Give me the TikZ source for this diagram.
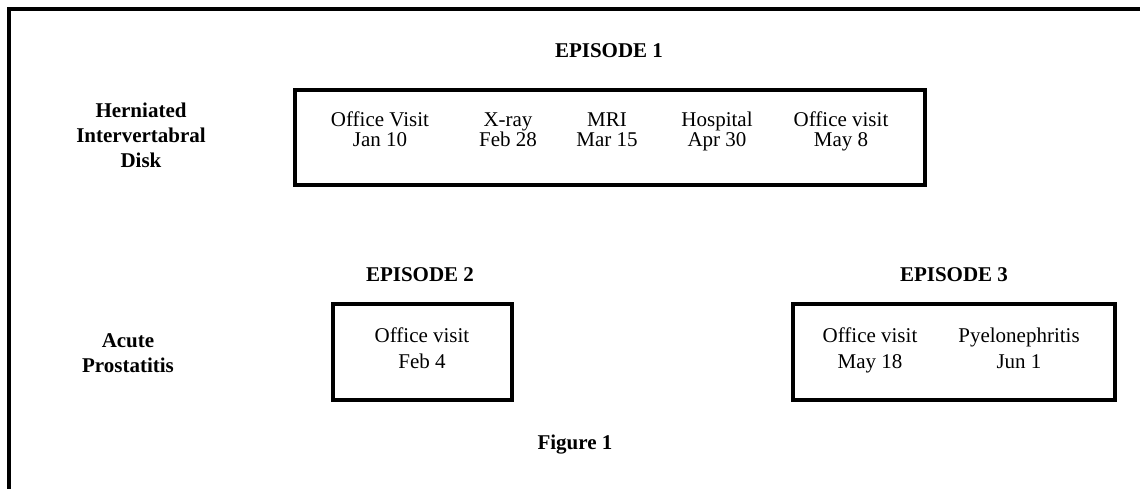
\documentclass[tikz,border=0pt]{standalone}
\usepackage{fontspec}
\setmainfont{Liberation Serif}
\usepackage{tikz}
\usetikzlibrary{positioning}
\tikzstyle{ep} = [rectangle, draw=black, line width=4pt, inner sep=0pt]
\tikzstyle{ev} = [align=center, inner sep=0pt, text height=15pt, text depth=5pt, font=\fontsize{21}{20.5}\selectfont]
\tikzstyle{ew} = [align=center, inner sep=0pt, text height=15pt, text depth=5pt, font=\fontsize{21}{25.5}\selectfont]
\tikzstyle{lbl} = [align=center, inner sep=0pt, font=\fontsize{21}{25}\selectfont\bfseries]

\begin{document}
\begin{tikzpicture}
		[
			x=1pt, y=-1pt,
		]

		\useasboundingbox (0,0) rectangle (1140,489);
		\draw[line width=4pt] (9,491) -- (9,9) -- (1142,9);

		% episode boxes
		\node[ep, minimum width=630pt, minimum height=95pt] (box1) at (610,137.5) {};
		\node[ep, minimum width=179pt, minimum height=96pt] (box2) at (422.5,352) {};
		\node[ep, minimum width=322pt, minimum height=96pt] (box3) at (954,352) {};

		% headings
		\node[lbl] (epi1) at (609,51) {EPISODE 1};
		\node[lbl] (epi2) at (420,275) {EPISODE 2};
		\node[lbl] (epi3) at (954,275) {EPISODE 3};
		\node[lbl] (hid) at (141,135) {Herniated\\Intervertabral\\Disk};
		\node[lbl] (ap) at (128,353) {Acute\\Prostatitis};
		\node[lbl] (fig) at (575,445) {Figure 1};

		% events
		\node[ev] (v1) at (380,142) {Office Visit\\Jan 10};
		\node[ev] (v2) at (508,142) {X-ray\\Feb 28};
		\node[ev] (v3) at (607,142) {MRI\\Mar 15};
		\node[ev] (v4) at (717,142) {Hospital\\Apr 30};
		\node[ev] (v5) at (841,142) {Office visit\\May 8};
		\node[ew] (v6) at (422,363) {Office visit\\Feb 4};
		\node[ew] (v7) at (870,363) {Office visit\\May 18};
		\node[ew] (v8) at (1019,363) {Pyelonephritis\\Jun 1};
	\end{tikzpicture}
\end{document}
